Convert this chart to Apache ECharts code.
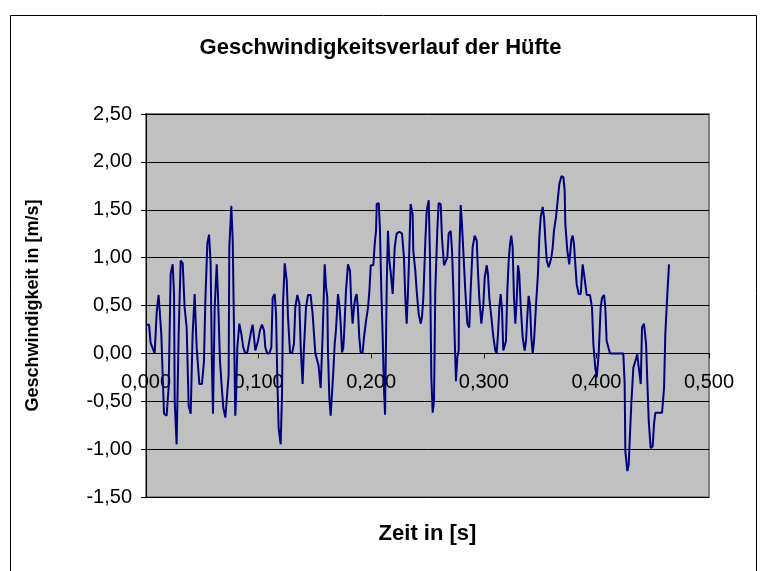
<!DOCTYPE html>
<html>
<head>
<meta charset="utf-8">
<script src="https://cdn.jsdelivr.net/npm/echarts@6/dist/echarts.min.js"></script>
<style>
html, body { margin: 0; padding: 0; background: #fff; }
#chart { width: 761px; height: 571px; }
</style>
</head>
<body>
<div id="chart"></div>
<script>
//Titel und Achsen
const chartTitle = 'Geschwindigkeitsverlauf der Hüfte';
const xTitle = 'Zeit in [s]';
const yTitle = 'Geschwindigkeit in [m/s]';

//Zeitpunkte [s]
const times = [
    0.0000, 0.0027, 0.0041, 0.0077, 0.0095, 0.0112, 0.0136, 0.0160, 0.0183, 0.0201,
    0.0219, 0.0237, 0.0249, 0.0255, 0.0272, 0.0290, 0.0308, 0.0326, 0.0343, 0.0361,
    0.0379, 0.0397, 0.0414, 0.0432, 0.0450, 0.0474, 0.0497, 0.0515, 0.0527, 0.0545,
    0.0560, 0.0574, 0.0586, 0.0595, 0.0610, 0.0628, 0.0639, 0.0657, 0.0675, 0.0687,
    0.0705, 0.0722, 0.0734, 0.0740, 0.0758, 0.0770, 0.0793, 0.0799, 0.0811, 0.0829,
    0.0847, 0.0864, 0.0882, 0.0900, 0.0918, 0.0935, 0.0947, 0.0959, 0.0971, 0.0983,
    0.0995, 0.1012, 0.1030, 0.1048, 0.1060, 0.1077, 0.1095, 0.1113, 0.1125, 0.1143,
    0.1155, 0.1166, 0.1178, 0.1196, 0.1208, 0.1217, 0.1232, 0.1250, 0.1261, 0.1279,
    0.1297, 0.1314, 0.1326, 0.1344, 0.1362, 0.1374, 0.1391, 0.1403, 0.1421, 0.1439,
    0.1462, 0.1480, 0.1492, 0.1504, 0.1533, 0.1551, 0.1569, 0.1587, 0.1599, 0.1610,
    0.1616, 0.1628, 0.1640, 0.1652, 0.1664, 0.1676, 0.1687, 0.1705, 0.1717, 0.1729,
    0.1741, 0.1752, 0.1758, 0.1776, 0.1794, 0.1812, 0.1823, 0.1835, 0.1847, 0.1859,
    0.1871, 0.1883, 0.1894, 0.1906, 0.1924, 0.1936, 0.1954, 0.1972, 0.1984, 0.1996,
    0.2019, 0.2031, 0.2043, 0.2049, 0.2067, 0.2078, 0.2090, 0.2102, 0.2114, 0.2123,
    0.2138, 0.2149, 0.2161, 0.2173, 0.2191, 0.2209, 0.2226, 0.2250, 0.2274, 0.2291,
    0.2303, 0.2315, 0.2327, 0.2338, 0.2350, 0.2368, 0.2374, 0.2392, 0.2404, 0.2422,
    0.2440, 0.2451, 0.2463, 0.2481, 0.2493, 0.2511, 0.2522, 0.2534, 0.2546, 0.2558,
    0.2569, 0.2587, 0.2599, 0.2617, 0.2629, 0.2647, 0.2664, 0.2676, 0.2688, 0.2706,
    0.2718, 0.2730, 0.2741, 0.2753, 0.2765, 0.2777, 0.2783, 0.2795, 0.2806, 0.2818,
    0.2836, 0.2854, 0.2871, 0.2883, 0.2901, 0.2919, 0.2937, 0.2948, 0.2960, 0.2978,
    0.2996, 0.3008, 0.3026, 0.3037, 0.3049, 0.3067, 0.3085, 0.3102, 0.3114, 0.3126,
    0.3138, 0.3150, 0.3162, 0.3173, 0.3185, 0.3197, 0.3209, 0.3221, 0.3233, 0.3244,
    0.3256, 0.3268, 0.3280, 0.3292, 0.3304, 0.3315, 0.3327, 0.3345, 0.3363, 0.3375,
    0.3386, 0.3398, 0.3410, 0.3422, 0.3434, 0.3446, 0.3464, 0.3481, 0.3493, 0.3505,
    0.3523, 0.3535, 0.3547, 0.3559, 0.3576, 0.3588, 0.3600, 0.3612, 0.3623, 0.3641,
    0.3659, 0.3671, 0.3689, 0.3707, 0.3718, 0.3724, 0.3742, 0.3759, 0.3777, 0.3789,
    0.3801, 0.3813, 0.3825, 0.3843, 0.3861, 0.3872, 0.3878, 0.3890, 0.3902, 0.3914,
    0.3943, 0.3961, 0.3973, 0.3990, 0.4003, 0.4020, 0.4038, 0.4050, 0.4068, 0.4079,
    0.4091, 0.4109, 0.4121, 0.4239, 0.4251, 0.4257, 0.4275, 0.4287, 0.4298, 0.4310,
    0.4328, 0.4346, 0.4363, 0.4376, 0.4382, 0.4394, 0.4405, 0.4423, 0.4441, 0.4453,
    0.4465, 0.4482, 0.4500, 0.4512, 0.4524, 0.4583, 0.4601, 0.4612, 0.4630, 0.4645
];

//Geschwindigkeit [m/s]
const speeds = [
    0.30, 0.30, 0.11, 0.00, 0.43, 0.61, 0.20, -0.63, -0.65, -0.36,
    0.83, 0.93, 0.62, -0.50, -0.95, 0.20, 0.97, 0.94, 0.48, 0.27,
    -0.55, -0.63, 0.20, 0.62, 0.06, -0.32, -0.32, -0.08, 0.55, 1.15,
    1.24, 0.94, -0.15, -0.63, 0.48, 0.93, 0.62, -0.08, -0.39, -0.57,
    -0.67, -0.67, -0.22, 1.11, 1.54, 1.18, -0.65, -0.50, 0.06, 0.31,
    0.20, 0.06, 0.00, 0.01, 0.13, 0.24, 0.30, 0.17, 0.03, 0.01,
    0.13, 0.24, 0.30, 0.24, 0.06, 0.00, 0.00, 0.06, 0.58, 0.62,
    0.41, -0.25, -0.78, -0.95, -0.43, 0.52, 0.94, 0.76, 0.38, 0.01,
    0.00, 0.10, 0.48, 0.61, 0.52, 0.06, -0.32, 0.06, 0.48, 0.61,
    0.61, 0.41, 0.20, 0.00, -0.13, -0.36, 0.20, 0.93, 0.69, 0.59,
    0.03, -0.46, -0.65, -0.64, -0.18, 0.10, 0.24, 0.62, 0.51, 0.31,
    0.01, 0.06, 0.17, 0.65, 0.93, 0.86, 0.51, 0.31, 0.48, 0.58,
    0.62, 0.45, 0.17, 0.01, 0.01, 0.17, 0.34, 0.48, 0.65, 0.92,
    0.92, 1.14, 1.28, 1.56, 1.57, 1.28, 0.65, 0.17, -0.39, -0.64,
    0.72, 1.28, 0.97, 0.85, 0.62, 1.11, 1.25, 1.27, 1.25, 1.00,
    0.58, 0.31, 0.65, 1.06, 1.56, 1.45, 1.07, 0.86, 0.65, 0.41,
    0.31, 0.38, 0.58, 1.18, 1.49, 1.60, 1.00, -0.25, -0.62, -0.50,
    0.65, 1.28, 1.57, 1.56, 1.20, 0.92, 0.92, 1.00, 1.25, 1.28,
    1.07, 0.65, 0.17, -0.29, -0.04, 0.03, 1.07, 1.55, 1.35, 1.07,
    0.65, 0.31, 0.27, 0.65, 1.11, 1.23, 1.18, 0.86, 0.58, 0.31,
    0.51, 0.79, 0.92, 0.83, 0.58, 0.38, 0.17, 0.03, 0.00, 0.20,
    0.48, 0.62, 0.45, 0.03, 0.01, 0.13, 0.65, 0.97, 1.14, 1.23,
    1.11, 0.58, 0.31, 0.55, 0.92, 0.83, 0.51, 0.17, 0.03, 0.13,
    0.38, 0.60, 0.51, 0.17, 0.00, 0.13, 0.51, 0.83, 1.21, 1.42,
    1.53, 1.42, 1.18, 0.97, 0.90, 0.92, 1.00, 1.11, 1.28, 1.42,
    1.63, 1.77, 1.85, 1.84, 1.70, 1.35, 1.07, 0.93, 1.18, 1.23,
    1.14, 0.93, 0.72, 0.62, 0.62, 0.83, 0.93, 0.83, 0.72, 0.61,
    0.61, 0.48, 0.10, -0.15, -0.25, -0.01, 0.48, 0.58, 0.61, 0.48,
    0.13, 0.05, 0.00, 0.00, -0.32, -1.02, -1.23, -1.16, -0.85, -0.53,
    -0.15, -0.08, -0.01, -0.15, -0.20, -0.32, 0.27, 0.31, 0.10, -0.32,
    -0.71, -0.99, -0.97, -0.73, -0.62, -0.62, -0.36, 0.20, 0.62, 0.93
];

//Achsen
const xMin = 0, xMax = 0.5, xStep = 0.1;
const yMin = -1.5, yMax = 2.5, yStep = 0.5;

const font = 'Liberation Sans, Arial, sans-serif';

//Raster
const gridTop = 114, gridBottom = 74, chartHeight = 571;
const plotHeight = chartHeight - gridTop - gridBottom;
//X-Achse liegt bei y = 0
const xAxisOffset = -plotHeight * (0 - yMin) / (yMax - yMin);

//Komma statt Punkt
function comma(v, digits) {
    return v.toFixed(digits).replace('.', ',');
}

const points = times.map(function (t, i) {
    return [t, speeds[i]];
});

const chart = echarts.init(document.getElementById('chart'), null, { renderer: 'canvas' });

const option = {
    backgroundColor: '#ffffff',
    animation: false,
    title: {
        text: chartTitle,
        left: 'center',
        top: 32,
        textStyle: { fontFamily: font, fontSize: 22, fontWeight: 'bold', color: '#000' }
    },
    graphic: [{
        type: 'rect',
        shape: { x: 10.5, y: 15.5, width: 746, height: 570 },
        style: { fill: null, stroke: '#000', lineWidth: 1 },
        silent: true
    }],
    grid: {
        left: 146,
        top: gridTop,
        right: 52,
        bottom: gridBottom,
        containLabel: false,
        outerBoundsMode: 'none',
        show: true,
        backgroundColor: '#C0C0C0',
        borderColor: '#808080',
        borderWidth: 2
    },
    xAxis: {
        type: 'value',
        min: xMin,
        max: xMax,
        interval: xStep,
        offset: xAxisOffset,
        name: xTitle,
        nameLocation: 'middle',
        nameGap: 170,
        nameTextStyle: { fontFamily: font, fontSize: 22, fontWeight: 'bold', color: '#000' },
        axisLine: { show: true, onZero: false, lineStyle: { color: '#000', width: 1 } },
        axisTick: { show: true, inside: false, length: 5, lineStyle: { color: '#000' } },
        axisLabel: {
            margin: 19,
            fontFamily: font,
            fontSize: 20,
            color: '#000',
            formatter: function (v) { return comma(v, 3); }
        },
        splitLine: { show: false }
    },
    yAxis: {
        type: 'value',
        min: yMin,
        max: yMax,
        interval: yStep,
        name: yTitle,
        nameLocation: 'middle',
        nameRotate: 90,
        nameGap: 104,
        nameTextStyle: { fontFamily: font, fontSize: 18, fontWeight: 'bold', color: '#000' },
        axisLine: { show: true, onZero: false, lineStyle: { color: '#000', width: 1 } },
        axisTick: { show: true, inside: false, length: 5, lineStyle: { color: '#000' } },
        axisLabel: {
            margin: 14,
            fontFamily: font,
            fontSize: 20,
            color: '#000',
            formatter: function (v) { return comma(v, 2); }
        },
        splitLine: { show: true, lineStyle: { color: '#000', width: 1 } }
    },
    series: [{
        type: 'line',
        data: points,
        showSymbol: false,
        symbol: 'none',
        smooth: false,
        lineStyle: { color: '#000080', width: 2 },
        z: 3
    }]
};

chart.setOption(option);
</script>
</body>
</html>
